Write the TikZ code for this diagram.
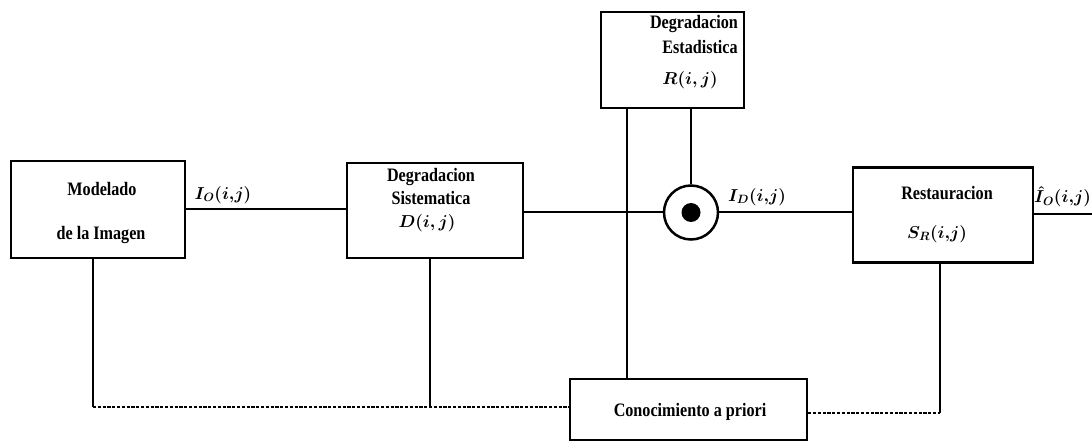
\documentclass[tikz,border=0pt]{standalone}
\usepackage{graphicx}
\usepackage{fontspec}
\setmainfont{Liberation Serif}
\usetikzlibrary{calc}

% condensed bold lettering for the block captions
\newcommand\cond[1]{\scalebox{0.85}[1]{#1}}

\begin{document}
\begin{tikzpicture}[x=1pt,y=-1pt,
  block/.style={draw, line width=2.3pt, rectangle, inner sep=0pt},
  wire/.style={line width=2pt},
  link/.style={line width=2pt, dash pattern=on 3.2pt off 1.6pt},
  caption/.style={font=\fontsize{19}{21}\selectfont\bfseries, inner sep=0pt},
  signal/.style={font=\fontsize{18.5}{21}\selectfont\boldmath, inner sep=0pt},
]
\useasboundingbox[fill=white] (0,0) rectangle (1092,443);

% processing blocks
\node[block, minimum width=174pt, minimum height=97pt] (mod)   at (98,209.5)  {};
\node[block, minimum width=176pt, minimum height=95pt] (sys)   at (435,210.5) {};
\node[block, minimum width=143pt, minimum height=96pt] (stat)  at (672.5,60)  {};
\node[block, minimum width=180pt, minimum height=95pt] (rest)  at (943,215)   {};
\node[block, minimum width=237pt, minimum height=61pt] (prior) at (688.5,409.5) {};
\node[draw, circle, line width=2.5pt, minimum size=54pt, inner sep=0pt] (mult) at (691,212.5) {};
\fill (mult.center) circle (9.5pt);

% block captions
\node[caption] (modA)  at (102,189) {\cond{Modelado}};
\node[caption] (modB)  at (101,235) {\cond{de la Imagen}};
\node[caption] (sysA)  at (431,177) {\cond{Degradacion}};
\node[caption] (sysB)  at (431,198) {\cond{Sistematica}};
\node[signal]  (sysC)  at (427,223) {$D(i{,}\,j)$};
\node[caption] (statA) at (694,24)  {\cond{Degradacion}};
\node[caption] (statB) at (700,47)  {\cond{Estadistica}};
\node[signal]  (statC) at (690,80)  {$R(i{,}\,j)$};
\node[caption] (restA) at (947,193) {\cond{Restauracion}};
\node[signal]  (restB) at (937,234) {$S_R(i{,}j)$};
\node[caption] (priorA) at (690,412) {\cond{Conocimiento a priori}};

% signal labels
\node[signal] (lIo)  at (223,195) {$I_O(i{,}j)$};
\node[signal] (lId)  at (757,197) {$I_D(i{,}j)$};
\node[signal, font=\fontsize{17}{20}\selectfont\boldmath, anchor=east] (lIoh) at (1091,197) {$\hat{I}_O(i{,}j)$};

% forward path
\coordinate (out) at (1092,214);
\draw[wire] (mod.east) -- (mod.east -| sys.west);
\draw[wire] (sys.east |- mult.west) -- (mult.west);
\draw[wire] (mult.east) -- (mult.east -| rest.west);
\draw[wire] (rest.east |- out) -- (out);
\draw[wire] (mult.north |- stat.south) -- (mult.north);
\draw[wire] ([xshift=27pt]stat.south west) -- ([xshift=27pt]stat.south west |- prior.north);

% a priori knowledge links
\coordinate (k1) at (93,407);
\coordinate (k2) at (430,407);
\coordinate (k3) at (940,413);
\draw[wire] ([xshift=-5pt]mod.south) -- (k1);
\draw[wire] ([xshift=-5pt]sys.south) -- (k2);
\draw[wire] ([xshift=-3pt]rest.south) -- (k3);
\draw[link] (k1) -- (k1 -| prior.west);
\draw[link] (k3 -| prior.east) -- (k3);
\end{tikzpicture}
\end{document}
